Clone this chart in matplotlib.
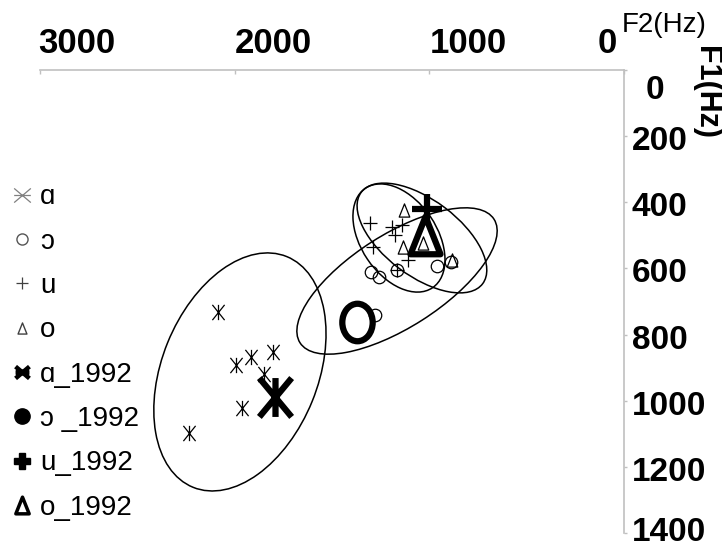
import numpy as np
import matplotlib
matplotlib.use("Agg")
import matplotlib.pyplot as plt
import matplotlib.transforms as mtransforms
from matplotlib.path import Path
from matplotlib.patches import Ellipse
from matplotlib.lines import Line2D

plt.rcParams["font.family"] = ["Liberation Sans", "DejaVu Sans"]

# ---- formant measurements (Hz) ----
a_f2 = [2086, 1993, 1916, 1803, 1849, 1962, 2235]
a_f1 = [732, 892, 868, 853, 919, 1022, 1098]

oo_f2 = [1301, 1257, 1165, 959, 889, 1279]
oo_f1 = [610, 625, 605, 593, 581, 741]

u_f2 = [1305, 1193, 1176, 1142, 1288, 1168, 1108]
u_f1 = [464, 474, 499, 469, 534, 605, 575]

o_f2 = [1129, 1134, 1031, 885]
o_f1 = [423, 534, 524, 575]

# 1992 reference values
ref_f2 = [1793, 1373, 1012, 1020]
ref_f1 = [988, 761, 420, 499]

labels = ["ɑ", "ɔ", "u", "o", "ɑ_1992", "ɔ _1992", "u_1992", "o_1992"]

# dispersion ellipses: centre (F2, F1) in Hz, axes/tilt on screen
ell_f2 = [1973, 1166, 1156, 1038]
ell_f1 = [913, 638, 508, 508]
ell_w = [249, 230, 120, 152]
ell_h = [156, 93, 76, 76]
ell_ang = [67.9, 32.5, -56, -37]

x_ticks = [3000, 2000, 1000, 0]
y_ticks = [0, 200, 400, 600, 800, 1000, 1200, 1400]

W, H = 722, 548
X0, X1 = 40, 624       # pixel columns of F2 = 3000 and F2 = 0
Y0, Y1 = 70, 533       # pixel rows of F1 = 0 and F1 = 1400
HZ_PX_X = 3000 / (X1 - X0)
HZ_PX_Y = 1400 / (Y1 - Y0)


def asterisk(w, h, horizontal=False):
    v = [(-w, -h), (w, h), (-w, h), (w, -h)]
    v += [(-w, 0), (w, 0)] if horizontal else [(0, -h), (0, h)]
    return Path(v, [Path.MOVETO, Path.LINETO] * 3)


ast_small = asterisk(0.8, 1.0)
ast_leg = asterisk(1.0, 0.85, horizontal=True)
ast_big = asterisk(0.83, 1.0)
tri = Path([(0, 1), (-0.8, -1), (0.8, -1), (0, 1)],
           [Path.MOVETO, Path.LINETO, Path.LINETO, Path.CLOSEPOLY])
ring = Path.unit_circle().transformed(mtransforms.Affine2D().scale(0.81, 1.0))

fig = plt.figure(figsize=(W / 100, H / 100), dpi=100)
ax = fig.add_axes([X0 / W, 1 - Y1 / H, (X1 - X0) / W, (Y1 - Y0) / H])
ax.set_xlim(3000, 0)
ax.set_ylim(1400, 0)

for side in ["left", "bottom"]:
    ax.spines[side].set_visible(False)
for side in ["top", "right"]:
    ax.spines[side].set_color("#c0c0c0")
    ax.spines[side].set_linewidth(1.2)

ax.xaxis.tick_top()
ax.yaxis.tick_right()
ax.set_xticks(x_ticks)
ax.set_xticklabels([str(v) for v in x_ticks])
ax.set_yticks(y_ticks)
ax.set_yticklabels([str(v) for v in y_ticks])
ax.tick_params(axis="x", direction="in", length=3, width=1, color="#c0c0c0",
               pad=7, labelsize=25)
ax.tick_params(axis="y", direction="out", length=2.5, width=1, color="#c0c0c0",
               pad=3, labelsize=24)
for lab in ax.get_xticklabels() + ax.get_yticklabels():
    lab.set_fontweight("bold")


def shift(lab, dx_px, dy_px, ha=None):
    off = mtransforms.ScaledTranslation(dx_px / 100, dy_px / 100, fig.dpi_scale_trans)
    lab.set_transform(lab.get_transform() + off)
    if ha:
        lab.set_horizontalalignment(ha)


xl = ax.get_xticklabels()
for lab in xl:
    lab.set_horizontalalignment("left")
shift(xl[0], -2, 0)
shift(xl[-1], -7, 0, ha="right")
yl = ax.get_yticklabels()
for lab in yl[1:-1]:
    shift(lab, 0, -2)
shift(yl[-1], 0, 4)
shift(yl[0], 14, -17)

# ellipses
for cx, cy, w, h, ang in zip(ell_f2, ell_f1, ell_w, ell_h, ell_ang):
    tr = mtransforms.Affine2D().scale(-HZ_PX_X, -HZ_PX_Y).translate(cx, cy) + ax.transData
    ax.add_patch(Ellipse((0, 0), w, h, angle=ang, fill=False,
                         edgecolor="black", linewidth=1.1, transform=tr))

# individual tokens
ax.plot(a_f2, a_f1, ls="none", marker=ast_small, ms=11, mew=0.9, color="black")
ax.plot(oo_f2, oo_f1, ls="none", marker="o", ms=9, mew=0.9, mfc="none", color="black")
ax.plot(u_f2, u_f1, ls="none", marker="+", ms=10, mew=0.9, color="black")
ax.plot(o_f2, o_f1, ls="none", marker=tri, ms=9.5, mew=0.9, mfc="none", color="black")

# 1992 references
ax.plot(ref_f2[0], ref_f1[0], ls="none", marker=ast_big, ms=28, mew=4.5, color="black")
ax.plot(ref_f2[1], ref_f1[1], ls="none", marker=ring, ms=27, mew=4.5, mfc="none", color="black")
ax.plot(ref_f2[2], ref_f1[2], ls="none", marker="+", ms=22, mew=4.5, color="black")
ax.plot(ref_f2[3], ref_f1[3], ls="none", marker=tri, ms=27, mew=4.5, mfc="none", color="black")

handles = [
    Line2D([], [], ls="none", marker=ast_leg, ms=12, mew=0.9, color="#808080"),
    Line2D([], [], ls="none", marker="o", ms=8, mew=1.0, mfc="none", color="#555555"),
    Line2D([], [], ls="none", marker="+", ms=9, mew=0.9, color="#404040"),
    Line2D([], [], ls="none", marker=tri, ms=8, mew=1.0, mfc="none", color="#404040"),
    Line2D([], [], ls="none", marker=ast_leg, ms=10, mew=3.2, color="black"),
    Line2D([], [], ls="none", marker="o", ms=11, color="black"),
    Line2D([], [], ls="none", marker="P", ms=11, color="black"),
    Line2D([], [], ls="none", marker=tri, ms=12, mew=2.5, mfc="none", color="black"),
]
fig.legend(handles, labels, loc="upper left", bbox_to_anchor=(0.0, 1 - 176 / H),
           frameon=False, fontsize=20, handlelength=1.0, handletextpad=0.15,
           labelspacing=0.66, borderaxespad=0.0, borderpad=0.3)

fig.text(622 / W, 1 - 12 / H, "F2(Hz)", fontsize=20, ha="left", va="top")
fig.text(706 / W, 1 - 92 / H, "F1(Hz)", fontsize=22, fontweight="bold",
         rotation=-90, ha="center", va="center")

fig.savefig("out.png", dpi=100)
